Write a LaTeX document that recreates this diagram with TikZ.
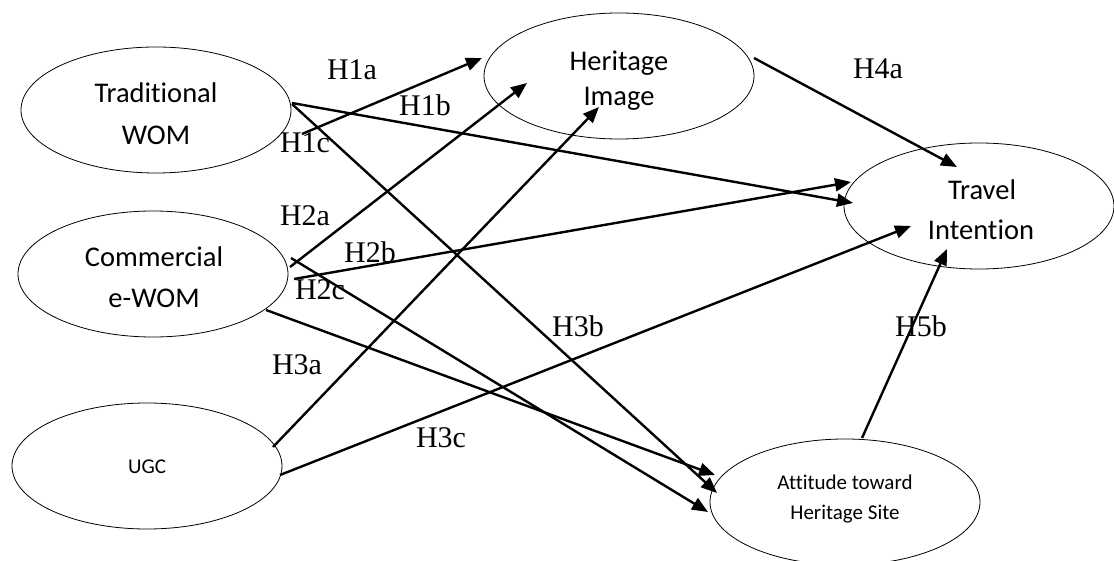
\documentclass[tikz,border=0pt]{standalone}
\usepackage{fontspec}
\setmainfont{Liberation Serif}
\newfontfamily\calfont[Ligatures=NoCommon]{Carlito}
\usetikzlibrary{arrows.meta,shapes.geometric}
\begin{document}
\begin{tikzpicture}[x=1pt,y=-1pt,
  ell/.style={draw, ellipse, line width=0.8pt, minimum width=270pt, minimum height=126pt, inner sep=0pt},
  big/.style={anchor=base, inner sep=0pt, font=\calfont\fontsize{28.5}{34}\selectfont},
  small/.style={anchor=base, inner sep=0pt, font=\calfont\fontsize{21}{25}\selectfont},
  hyp/.style={anchor=base, inner sep=0pt, font=\fontsize{30}{36}\selectfont},
  arr/.style={line width=2.4pt, -{Triangle[length=16pt,width=13pt]}}]
\useasboundingbox[fill=white] (0,0) rectangle (1114,561);
% ellipses
\node[ell] (trad) at (156,110) {};
\node[ell] (com) at (153,274) {};
\node[ell] (ugc) at (147,466) {};
\node[ell] (hi) at (619,76) {};
\node[ell] (ti) at (979,206) {};
\node[ell] (att) at (845,502) {};
% texts
\node[big] (tradA) at (156,103) {Traditional};
\node[big] (tradB) at (156,145) {WOM};
\node[big] (comA) at (154,267) {Commercial};
\node[big] (comB) at (154,308) {e-WOM};
\node[small] (ugcA) at (147,473) {UGC};
\node[big] (hiA) at (619,71) {Heritage};
\node[big] (hiB) at (619,106) {Image};
\node[big] (tiA) at (982,200) {Travel};
\node[big] (tiB) at (981,240) {Intention};
\node[small] (attA) at (845,489) {Attitude toward};
\node[small] (attB) at (845,519) {Heritage Site};
% connector ends
\coordinate (a1s) at (302,134); \coordinate (a1e) at (482,58);
\coordinate (a2s) at (292,103); \coordinate (a2e) at (853,203);
\coordinate (a3s) at (292,104); \coordinate (a3e) at (717,493);
\coordinate (a4s) at (290,267); \coordinate (a4e) at (527,83);
\coordinate (a5s) at (294,279); \coordinate (a5e) at (851,182);
\coordinate (a6s) at (291,258); \coordinate (a6e) at (708,512);
\coordinate (a7s) at (266,310); \coordinate (a7e) at (715,475);
\coordinate (a8s) at (273,447); \coordinate (a8e) at (599,107);
\coordinate (a9s) at (280,475); \coordinate (a9e) at (911,226);
\coordinate (a10s) at (862,438); \coordinate (a10e) at (947,249);
\coordinate (a11s) at (754,58); \coordinate (a11e) at (957,167);
\draw[arr] (a1s) -- (a1e);
\draw[arr] (a2s) -- (a2e);
\draw[arr] (a3s) -- (a3e);
\draw[arr] (a4s) -- (a4e);
\draw[arr] (a5s) -- (a5e);
\draw[arr] (a6s) -- (a6e);
\draw[arr] (a7s) -- (a7e);
\draw[arr] (a8s) -- (a8e);
\draw[arr] (a9s) -- (a9e);
\draw[arr] (a10s) -- (a10e);
\draw[arr] (a11s) -- (a11e);
% hypothesis labels
\node[hyp] (h1a) at (352,80) {H1a};
\node[hyp] (h1b) at (425,116) {H1b};
\node[hyp] (h1c) at (305,153) {H1c};
\node[hyp] (h2a) at (305,226) {H2a};
\node[hyp] (h2b) at (370,263) {H2b};
\node[hyp] (h2c) at (320,300) {H2c};
\node[hyp] (h3a) at (297,374) {H3a};
\node[hyp] (h3b) at (578,337) {H3b};
\node[hyp] (h3c) at (441,447) {H3c};
\node[hyp] (h4a) at (878,79) {H4a};
\node[hyp] (h5b) at (921,337) {H5b};
\end{tikzpicture}
\end{document}
